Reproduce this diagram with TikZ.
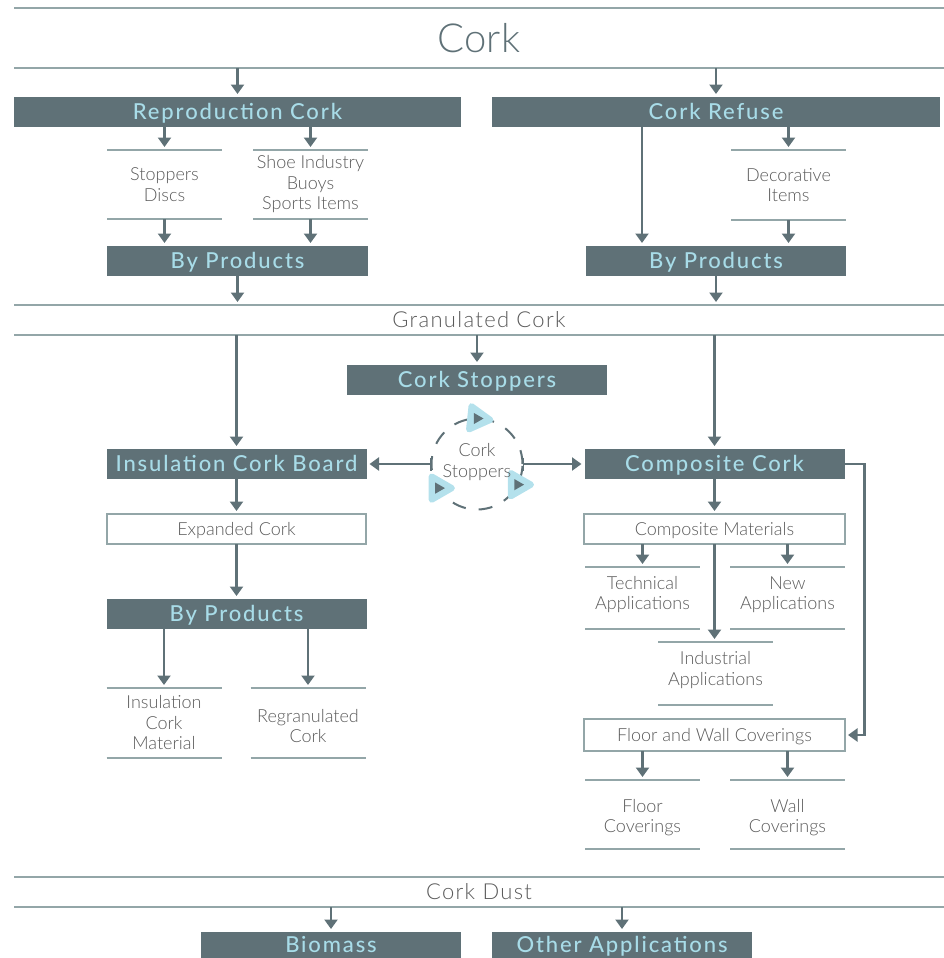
\documentclass[tikz,border=0pt]{standalone}
\usepackage{fontspec}
\setmainfont{Lato}
\newfontfamily\thinfont{Lato Light}
\newfontfamily\bandfont[LetterSpace=6]{Lato Light}
\newfontfamily\headfont[LetterSpace=8.5]{Lato Medium}
\usetikzlibrary{arrows.meta,positioning,shapes.geometric}
\definecolor{slate}{HTML}{5F7177}
\definecolor{rule}{HTML}{93A6A8}
\definecolor{sky}{HTML}{A8DCE8}
\definecolor{pale}{HTML}{B4E1EC}
\definecolor{copy}{HTML}{5A5A5A}

\begin{document}
\begin{tikzpicture}
[x=1pt,y=1pt,
inner sep=0pt,outer sep=0pt,
band/.style={minimum width=930pt,minimum height=30pt,text=copy,font=\bandfont\fontsize{22}{24}\selectfont},
head/.style={rectangle,fill=slate,text=sky,minimum height=30pt,text height=15pt,text depth=1pt,font=\headfont\fontsize{22}{24}\selectfont},
plain/.style={rectangle,draw=rule,line width=1.3pt,minimum width=261pt,minimum height=30pt,text height=13pt,text depth=1pt,text=copy,font=\thinfont\fontsize{18}{20.5}\selectfont},
list/.style={minimum width=115pt,text=copy,align=center,font=\thinfont\fontsize{18}{20.5}\selectfont},
lift/.style={text depth=10pt},
sink/.style={text height=39.5pt},
flow/.style={-{Triangle[width=13pt,length=9.5pt]},shorten >=3pt,draw=slate,line width=2.3pt},
tee/.style={{Bar[width=13pt,line width=1.5pt]}-{Triangle[width=13pt,length=9.5pt]},shorten >=3pt,draw=slate,line width=2.3pt},
spot/.style={regular polygon,regular polygon sides=3,minimum size=27pt,fill=pale,draw=pale,line width=6pt,line join=round},
spotmark/.style={regular polygon,regular polygon sides=3,minimum size=13pt,fill=slate,shape border rotate=-90}]
\useasboundingbox (0,0) rectangle (944,-958);
% top band and first row
\node[band,minimum height=60pt,text=slate,font=\thinfont\fontsize{40}{48}\selectfont] (cork) at (479,-38) {Cork};
\node[head,minimum width=447pt] (repro) [below=29pt of cork.south west,anchor=north west] {Reproduction Cork};
\node[head,minimum width=448pt] (refuse) [right=31pt of repro] {Cork Refuse};
\node[list,minimum height=69pt] (discs) [below=23pt of repro.south west,xshift=93pt,anchor=north west] {Stoppers\\Discs};
\node[list,minimum height=69pt] (shoes) [right=31pt of discs] {Shoe Industry\\Buoys\\Sports Items};
\node[list,minimum height=70pt] (decor) [below=23pt of refuse.south west,xshift=239pt,anchor=north west] {Decorative\\Items};
\node[head,minimum width=261pt] (byprodleft) [below=27pt of discs.south west,anchor=north west] {By Products};
\node[head,minimum width=260pt] (byprodright) [below=26pt of decor.south east,anchor=north east] {By Products};
% middle band
\node[band] (granul) [below=29pt of byprodleft.south west,xshift=-93pt,anchor=north west] {Granulated Cork};
\node[head,minimum width=260pt] (stoppers) [below=30pt of granul.south west,xshift=333pt,anchor=north west] {Cork Stoppers};
\node[circle,draw=slate,line width=2pt,dash pattern=on 14pt off 13pt,minimum size=91pt] (hub) [below=23.5pt of stoppers] {};
\node[head,minimum width=260pt] (insul) [left=65pt of hub] {Insulation Cork Board};
\node[head,minimum width=260pt] (comp) [right=62pt of hub] {Composite Cork};
\node[spot,shape border rotate=-96] (spota) at (hub.90) {};
\node[spot,shape border rotate=-90] (spotb) at (hub.212) {};
\node[spot,shape border rotate=-90] (spotc) at (hub.-27) {};
\node[spotmark] at (spota) {};
\node[spotmark] at (spotb) {};
\node[spotmark] at (spotc) {};
\node[text=copy,align=center,font=\thinfont\fontsize{18}{20.5}\selectfont] (hubtext) at ([yshift=2pt]hub) {Cork\\Stoppers};
% left column
\node[plain,minimum width=259pt] (expanded) [below=35pt of insul] {Expanded Cork};
\node[head,minimum width=260pt] (byprodlow) [below=55pt of expanded] {By Products};
\node[list,minimum height=70pt] (insulmat) [below=59pt of byprodlow.south west,anchor=north west] {Insulation\\Cork\\Material};
\node[list,sink,minimum height=70pt] (regran) [right=29pt of insulmat] {Regranulated\\Cork};
% right column
\node[plain] (compmat) [below=35pt of comp] {Composite Materials};
\node[list,lift,minimum height=62pt] (tech) [below=23pt of compmat.south west,xshift=1pt,anchor=north west] {Technical\\Applications};
\node[list,lift,minimum height=62pt] (newapp) [right=30pt of tech] {New\\Applications};
\node[list,lift,minimum height=63pt] (indust) [below=13pt of tech.south west,xshift=73pt,anchor=north west] {Industrial\\Applications};
\node[plain,minimum height=32pt] (floorwall) [below=14pt of indust.south west,xshift=-74pt,anchor=north west] {Floor and Wall Coverings};
\node[list,sink,minimum height=69pt] (floorc) [below=29pt of floorwall.south west,xshift=1pt,anchor=north west] {Floor\\Coverings};
\node[list,sink,minimum height=69pt] (wallc) [right=30pt of floorc] {Wall\\Coverings};
% bottom band
\node[band] (dust) [below=28pt of floorc.south west,xshift=-571pt,anchor=north west] {Cork Dust};
\node[head,minimum width=260pt,minimum height=26pt] (biomass) [below=25pt of dust.south west,xshift=187pt,anchor=north west] {Biomass};
\node[head,minimum width=260pt,minimum height=26pt] (other) [right=31pt of biomass] {Other Applications};
% rules above and below
\foreach \name in {cork,granul,dust,discs,shoes,decor,insulmat,regran,tech,newapp,indust,floorc,wallc}
  \draw[rule,line width=1.3pt] (\name.north west) -- (\name.north east) (\name.south west) -- (\name.south east);
% arrows
\draw[flow] (cork.south -| repro) -- (repro);
\draw[flow] (cork.south -| refuse) -- (refuse);
\draw[flow] (repro.south -| discs) -- (discs);
\draw[flow] (repro.south -| shoes) -- (shoes);
\draw[flow] (discs) -- (discs |- byprodleft.north);
\draw[flow] (shoes) -- (shoes |- byprodleft.north);
\draw[flow] (refuse.south -| decor) -- (decor);
\draw[flow] (decor) -- (decor |- byprodright.north);
\draw[flow] ([xshift=-74pt]byprodright.north |- refuse.south) -- ([xshift=-74pt]byprodright.north);
\draw[flow] (byprodleft) -- (byprodleft |- granul.north);
\draw[flow] (byprodright) -- (byprodright |- granul.north);
\draw[flow] (granul.south -| insul) -- (insul);
\draw[flow] (granul.south -| stoppers) -- (stoppers);
\draw[flow] (granul.south -| comp) -- (comp);
\draw[tee] (hub.west) -- (insul);
\draw[tee] (hub.east) -- (comp);
\draw[flow] (insul) -- (expanded);
\draw[flow] (expanded) -- (byprodlow);
\draw[flow] (byprodlow.south -| insulmat) -- (insulmat);
\draw[flow] (byprodlow.south -| regran) -- (regran);
\draw[flow] (comp) -- (compmat);
\draw[flow] (compmat.south -| tech) -- (tech);
\draw[flow] (compmat.south -| newapp) -- (newapp);
\draw[flow] (compmat) -- (compmat |- indust.north);
\draw[flow] (comp.east) -- ++(20pt,0) |- (floorwall);
\draw[flow] (floorwall.south -| floorc) -- (floorc);
\draw[flow] (floorwall.south -| wallc) -- (wallc);
\draw[flow] (dust.south -| biomass) -- (biomass);
\draw[flow] (dust.south -| other) -- (other);
\end{tikzpicture}
\end{document}
